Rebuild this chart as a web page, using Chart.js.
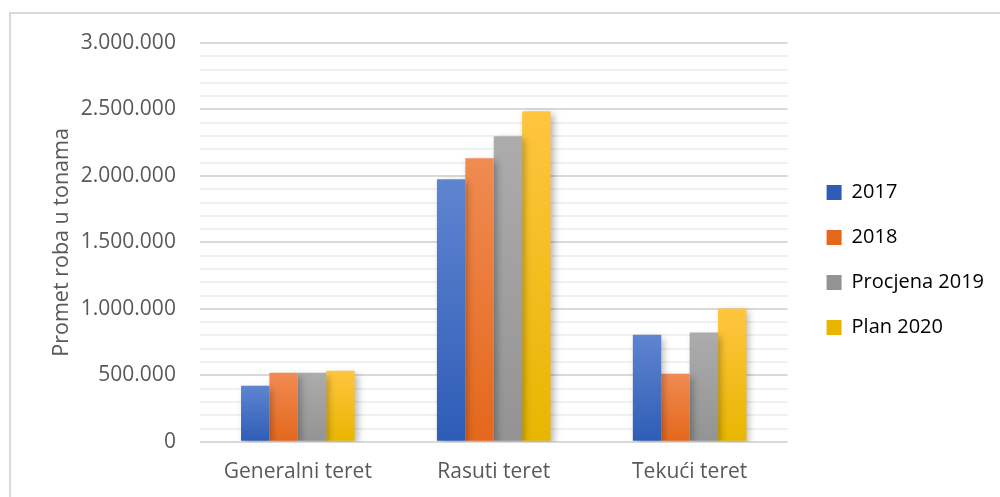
<!DOCTYPE html>
<html>
<head>
<meta charset="utf-8">
<script src="https://cdn.jsdelivr.net/npm/chart.js@4.4.1/dist/chart.umd.min.js"></script>
<style>
    html, body { margin: 0; padding: 0; background: #fff; }
    #wrap { position: relative; width: 1000px; height: 497px; }
    #frame { position: absolute; left: 9px; top: 12px; right: -5px; bottom: -5px; border-left: 2px solid #D9D9D9; border-top: 2px solid #D9D9D9; }
    canvas { position: absolute; left: 0; top: 0; }
</style>
</head>
<body>
<div id="wrap">
    <div id="frame"></div>
    <canvas id="Promet_Chart" width="1000" height="497"></canvas>
</div>
<script>
// kategorije i serije (tone)
const categories = ['Generalni teret', 'Rasuti teret', 'Tekući teret'];
const seriesNames = ['2017', '2018', 'Procjena 2019', 'Plan 2020'];
const values2017 = [422000, 1975000, 806000];
const values2018 = [520000, 2133000, 512000];
const valuesProcjena2019 = [520000, 2299000, 822000];
const valuesPlan2020 = [535000, 2487000, 1003000];
const yTicksMajor = [0, 500000, 1000000, 1500000, 2000000, 2500000, 3000000];

// gornja / donja boja gradijenta
const colorsTop = ['#5F85D0', '#F08B52', '#ACACAC', '#FFC53F'];
const colorsBottom = ['#2E5CB6', '#E4671C', '#939393', '#E8B600'];

function barGradient(i) {
    return function (ctx) {
        const chart = ctx.chart;
        if (!chart.chartArea || !chart.scales.y || ctx.raw === undefined) return colorsBottom[i];
        const y = chart.scales.y;
        const top = y.getPixelForValue(ctx.raw);
        const bottom = y.getPixelForValue(0);
        const g = chart.ctx.createLinearGradient(0, top, 0, bottom);
        g.addColorStop(0, colorsTop[i]);
        g.addColorStop(1, colorsBottom[i]);
        return g;
    };
}

const allSeries = [values2017, values2018, valuesProcjena2019, valuesPlan2020];

const barShadow = {
    id: 'barShadow',
    beforeDatasetsDraw(chart) {
        const c = chart.ctx;
        c.save();
        c.shadowColor = 'rgba(0, 0, 0, 0.28)';
        c.shadowBlur = 7;
        c.shadowOffsetX = 3;
        c.shadowOffsetY = 3;
    },
    afterDatasetsDraw(chart) {
        chart.ctx.restore();
    }
};

// legenda malo dalje od grafikona i malo vise
const legendGap = {
    id: 'legendGap',
    beforeDraw(chart) {
        const lg = chart.legend;
        if (lg && chart.chartArea) {
            const d = chart.chartArea.right + 14 - lg.left;
            lg.left += d;
            lg.right += d;
            const dy = chart.chartArea.top - 9 - lg.top;
            lg.top += dy;
            lg.bottom += dy;
        }
    }
};

function formatDots(v) {
    return String(v).replace(/\B(?=(\d{3})+(?!\d))/g, '.');
}

const ctx = document.getElementById('Promet_Chart').getContext('2d');

new Chart(ctx, {
    type: 'bar',
    data: {
        labels: categories,
        datasets: allSeries.map((vals, i) => ({
            label: seriesNames[i],
            data: vals,
            backgroundColor: barGradient(i),
            borderWidth: 0,
            categoryPercentage: 0.58,
            barPercentage: 1.0
        }))
    },
    options: {
        responsive: false,
        animation: false,
        layout: {
            padding: { left: 42, top: 43, right: 20, bottom: 2 }
        },
        plugins: {
            legend: {
                position: 'right',
                labels: {
                    boxWidth: 15,
                    boxHeight: 15,
                    padding: 25,
                    color: '#595959',
                    font: { family: 'Open Sans', size: 20 },
                    generateLabels(chart) {
                        return chart.data.datasets.map((ds, i) => ({
                            text: ds.label,
                            fillStyle: colorsBottom[i],
                            strokeStyle: colorsBottom[i],
                            lineWidth: 0,
                            hidden: false,
                            datasetIndex: i
                        }));
                    }
                }
            },
            tooltip: { enabled: false }
        },
        scales: {
            x: {
                grid: { display: false },
                border: { display: false },
                ticks: {
                    color: '#595959',
                    padding: 10,
                    font: { family: 'Open Sans', size: 21 }
                }
            },
            y: {
                min: 0,
                max: 3000000,
                border: { display: false },
                grid: {
                    lineWidth: 2,
                    drawTicks: false,
                    color: (c) => (yTicksMajor.includes(c.tick.value) ? '#D9D9D9' : '#F0F0F0')
                },
                ticks: {
                    stepSize: 100000,
                    autoSkip: false,
                    padding: 24,
                    color: '#595959',
                    font: { family: 'Open Sans', size: 21 },
                    callback: (v) => (yTicksMajor.includes(v) ? formatDots(v) : '')
                },
                title: {
                    display: true,
                    text: 'Promet roba u tonama',
                    color: '#595959',
                    font: { family: 'Open Sans', size: 21.5 },
                    padding: { top: 7, bottom: -18 }
                }
            }
        }
    },
    plugins: [barShadow, legendGap]
});
</script>
</body>
</html>
